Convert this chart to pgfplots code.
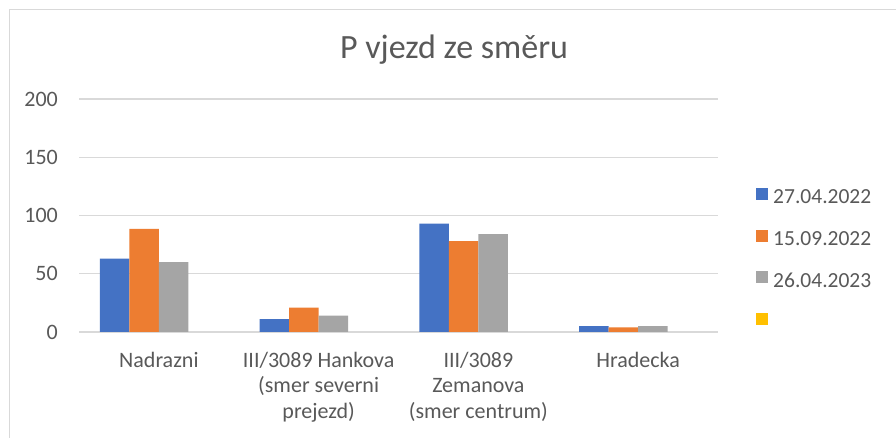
\documentclass[border=0pt]{standalone}
\usepackage{fontspec}
\setmainfont{Carlito}
\usepackage{pgfplots}
\pgfplotsset{compat=1.18}
\definecolor{cblue}{HTML}{4472C4}
\definecolor{corange}{HTML}{ED7D31}
\definecolor{cgray}{HTML}{A5A5A5}
\definecolor{cyellow}{HTML}{FFC000}
\definecolor{ctext}{HTML}{595959}
\definecolor{cgrid}{HTML}{D9D9D9}
\begin{document}
\begin{tikzpicture}[x=1bp,y=1bp]
\useasboundingbox (0,0) rectangle (896,438);
\fill[white] (0,0) rectangle (896,438);
\draw[cgrid, line width=1.2bp] (9.5,-2) -- (9.5,428.5) -- (898,428.5);
\node[text=ctext, font=\fontsize{34bp}{40bp}\selectfont] at (454,388) {P vjezd ze směru};
\begin{axis}[
  at={(79bp,106bp)}, anchor=south west,
  scale only axis, width=639bp, height=233bp,
  xmin=-0.5, xmax=3.5, ymin=0, ymax=200,
  ytick={0,50,100,150,200},
  xtick={0,1,2,3},
  xticklabels={Nadrazni, {III/3089 Hankova\\(smer severni\\prejezd)}, {III/3089\\Zemanova\\(smer centrum)}, Hradecka},
  axis line style={draw=none},
  tick style={draw=none},
  major tick length=0pt,
  ymajorgrids, grid style={cgrid, line width=1.4bp},
  /pgf/number format/assume math mode=true,
  ticklabel style={text=ctext, font=\fontsize{22bp}{25.5bp}\selectfont},
  yticklabel style={inner sep=0pt, xshift=-21bp},
  xticklabel style={align=center, inner sep=0pt, yshift=-20bp},
  ybar=0pt, bar width=29.5bp,
  legend cell align=left,
  legend style={at={(1.0595,0.62)}, anchor=north west, draw=none, fill=none, inner sep=0pt,
    font=\fontsize{21.5bp}{25.5bp}\selectfont, text=ctext,
    nodes={inner sep=0pt, text height=15bp, text depth=5bp},
    row sep=20.8bp, column sep=5bp},
  area legend,
  legend image code/.code={\fill[#1] (0bp,-1bp) rectangle (12bp,11bp);},
]
\addplot[fill=cblue, draw=none, bar shift=-44.25bp] coordinates {(0,63) (1,11) (2,93) (3,5)};
\addplot[fill=corange, draw=none, bar shift=-14.75bp] coordinates {(0,88.5) (1,21) (2,78) (3,4)};
\addplot[fill=cgray, draw=none, bar shift=14.75bp] coordinates {(0,60) (1,14) (2,84) (3,5)};
\addlegendentry{27.04.2022}
\addlegendentry{15.09.2022}
\addlegendentry{26.04.2023}
\addlegendimage{fill=cyellow, draw=none}
\addlegendentry{}
\end{axis}
\end{tikzpicture}
\end{document}
